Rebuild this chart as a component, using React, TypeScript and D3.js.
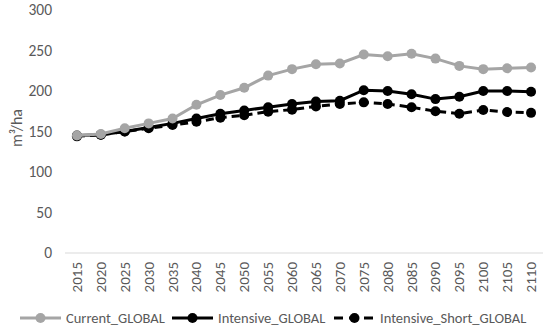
import React, { useEffect, useRef } from 'react';
import * as d3 from 'd3';

const years = [2015, 2020, 2025, 2030, 2035, 2040, 2045, 2050, 2055, 2060, 2065, 2070, 2075, 2080, 2085, 2090, 2095, 2100, 2105, 2110];
const currentGlobal = [145, 147, 154, 160, 166, 183, 195, 204, 219, 227, 233, 234, 245, 243, 246, 240, 231, 227, 228, 229];
const intensiveGlobal = [145, 146, 150, 155, 160, 166, 172, 176, 180, 184, 187, 188, 201, 200, 196, 190, 193, 200, 200, 199];
const intensiveShortGlobal = [144, 146, 150, 154, 158, 162, 167, 170, 174.5, 177, 181, 184, 186, 184, 180, 175, 172, 176.5, 174, 173];
const yTicks = [0, 50, 100, 150, 200, 250, 300];

const series = [
  { name: 'Current_GLOBAL', values: currentGlobal, color: '#a5a5a5', dash: null },
  { name: 'Intensive_GLOBAL', values: intensiveGlobal, color: '#000000', dash: null },
  { name: 'Intensive_Short_GLOBAL', values: intensiveShortGlobal, color: '#000000', dash: '8,5' },
];

const FONT = 'Carlito, Calibri, "Liberation Sans", Arial, sans-serif';

export default function App() {
  const svgRef = useRef<SVGSVGElement>(null);

  useEffect(() => {
    if (!svgRef.current) return;
    const W = 550;
    const H = 331;
    const margin = { left: 65, right: 7, top: 10, bottom: 78 };

    const svg = d3.select(svgRef.current);
    svg.selectAll('*').remove();

    const x = d3
      .scalePoint<number>()
      .domain(years)
      .range([margin.left, W - margin.right])
      .padding(0.5);

    const y = d3.scaleLinear().domain([0, 300]).range([H - margin.bottom, margin.top]);

    // y tick labels (no axis line)
    svg
      .append('g')
      .selectAll('text')
      .data(yTicks)
      .enter()
      .append('text')
      .attr('x', 52)
      .attr('y', (d) => y(d))
      .attr('dy', '0.35em')
      .attr('text-anchor', 'end')
      .attr('font-family', FONT)
      .attr('font-size', 15.5)
      .attr('fill', '#595959')
      .text((d) => d);

    // baseline
    svg
      .append('line')
      .attr('x1', margin.left)
      .attr('x2', W - margin.right)
      .attr('y1', y(0))
      .attr('y2', y(0))
      .attr('stroke', '#d9d9d9')
      .attr('stroke-width', 1);

    // x tick labels, rotated
    svg
      .append('g')
      .selectAll('text')
      .data(years)
      .enter()
      .append('text')
      .attr('transform', (d) => `translate(${x(d)! + 5},${y(0) + 9}) rotate(-90)`)
      .attr('text-anchor', 'end')
      .attr('font-family', FONT)
      .attr('font-size', 15)
      .attr('fill', '#595959')
      .text((d) => d);

    // y axis title
    svg
      .append('text')
      .attr('transform', `translate(22,128) rotate(-90)`)
      .attr('text-anchor', 'middle')
      .attr('font-family', FONT)
      .attr('font-size', 16)
      .attr('fill', '#595959')
      .text('m³/ha');

    const line = d3
      .line<number>()
      .x((_, i) => x(years[i])!)
      .y((d) => y(d));

    // draw series, back to front
    [...series].reverse().forEach((s) => {
      const g = svg.append('g');
      g.append('path')
        .datum(s.values)
        .attr('d', line)
        .attr('fill', 'none')
        .attr('stroke', s.color)
        .attr('stroke-width', 3)
        .attr('stroke-dasharray', s.dash ?? null);
      g.selectAll('circle')
        .data(s.values)
        .enter()
        .append('circle')
        .attr('cx', (_, i) => x(years[i])!)
        .attr('cy', (d) => y(d))
        .attr('r', 5)
        .attr('fill', s.color);
    });

    // legend
    const legendX = [20, 172, 334];
    const legendY = 318;
    series.forEach((s, i) => {
      const lg = svg.append('g').attr('transform', `translate(${legendX[i]},${legendY})`);
      lg.append('line')
        .attr('x1', 0)
        .attr('x2', 41)
        .attr('y1', 0)
        .attr('y2', 0)
        .attr('stroke', s.color)
        .attr('stroke-width', 3)
        .attr('stroke-dasharray', s.dash ? '9,6' : null);
      lg.append('circle').attr('cx', 20.5).attr('cy', 0).attr('r', 5).attr('fill', s.color);
      lg.append('text')
        .attr('x', 46)
        .attr('y', 0)
        .attr('dy', '0.35em')
        .attr('font-family', FONT)
        .attr('font-size', 14.5)
        .attr('fill', '#595959')
        .text(s.name);
    });
  }, []);

  return (
    <div style={{ position: 'absolute', left: 0, top: 0, background: '#fff' }}>
      <svg ref={svgRef} width={550} height={331} style={{ display: 'block' }} />
    </div>
  );
}
